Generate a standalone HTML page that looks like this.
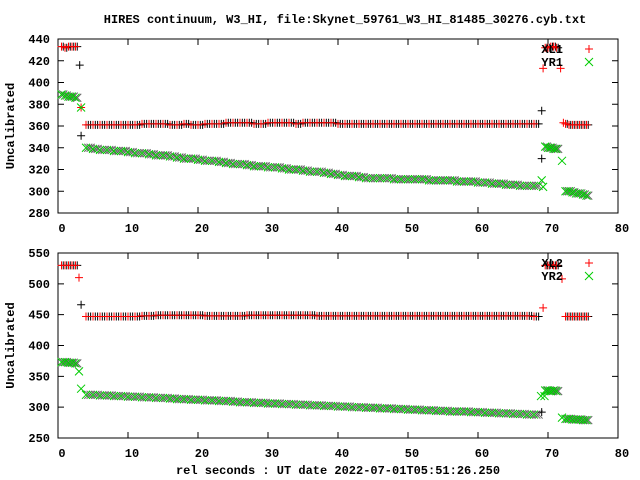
<!DOCTYPE html>
<html><head><meta charset="utf-8"><style>
html,body{margin:0;padding:0;background:#fff;}
svg{display:block;font-family:"Liberation Mono",monospace;font-weight:bold;}
</style></head><body>
<svg id="c" width="640" height="480" viewBox="0 0 640 480" xmlns="http://www.w3.org/2000/svg">
<rect width="640" height="480" fill="#fff"/>
<text x="345" y="23" font-size="12" text-anchor="middle">HIRES continuum, W3_HI, file:Skynet_59761_W3_HI_81485_30276.cyb.txt</text>
<text x="338" y="474" font-size="12" text-anchor="middle">rel seconds : UT date 2022-07-01T05:51:26.250</text>
<g id="g"></g>
</svg>
<script>
// shared x data
const xTicks = [0,10,20,30,40,50,60,70,80];
const mainTimes = [4,5,6,7,8,9,10,11,12,13,14,15,16,17,18,19,20,21,22,23,24,25,26,27,28,29,30,31,32,33,34,35,36,37,38,39,40,41,42,43,44,45,46,47,48,49,50,51,52,53,54,55,56,57,58,59,60,61,62,63,64,65,66,67,68];
const startTimes = [0.5,1,1.5,2,2.5];
const endTimes = [72.5,73,73.5,74,74.5,75,75.5];
const midTimes = [69.6,70,70.4,70.8,71.2];
// panel 1
const p1Ticks = [280,300,320,340,360,380,400,420,440];
const p1RedStart = [433,432,433,433,433];
const p1RedMain = [361,361,361,361,361,361,361,361,362,362,362,362,361,361,362,361,361,362,362,362,363,363,363,363,362,362,363,363,363,363,362,363,363,363,363,363,362,362,362,362,362,362,362,362,362,362,362,362,362,362,362,362,362,362,362,362,362,362,362,362,362,362,362,362,362];
const p1RedMid = [432,432,433,433,432];
const p1RedEnd = [362,361,361,361,361,361,361];
const p1RedOut = [[3.3,377],[69.3,413],[71.8,413],[72.2,363]];
const p1BlackOut = [[3.1,416],[3.3,351],[69.1,374],[69.1,330]];
const p1GreenStart = [389,388,387,387,386];
const p1GreenMain = [340,339,338,338,337,337,336,335,335,334,333,333,332,331,330,330,329,328,328,327,326,325,325,324,323,323,322,322,321,320,320,319,318,318,317,316,315,314,314,313,312,312,312,312,311,311,311,311,311,310,310,310,310,309,309,309,308,308,307,307,306,306,305,305,305];
const p1GreenMid = [341,340,340,339,339];
const p1GreenEnd = [300,300,299,298,298,297,296];
const p1GreenOut = [[3.3,377],[69.1,310],[69.3,304],[72,328]];
// panel 2
const p2Ticks = [250,300,350,400,450,500,550];
const p2RedStart = [530,530,530,530,530];
const p2RedMain = [447,447,447,447,447,447,447,447,448,448,449,449,449,449,449,449,449,448,448,448,448,448,448,449,449,449,449,449,449,449,449,449,449,448,448,448,448,448,448,448,448,448,448,448,448,448,448,448,448,448,448,448,448,448,448,448,448,448,448,448,448,448,448,448,447];
const p2RedMid = [530,530,531,530,530];
const p2RedEnd = [447,447,447,447,447,447,447];
const p2RedOut = [[3,510],[69.3,461],[72,508]];
const p2BlackOut = [[3.3,466],[69.1,292]];
const p2GreenStart = [373,373,372,372,371];
const p2GreenMain = [320,320,319,319,318,318,317,317,316,316,315,315,314,313,313,312,312,311,311,310,310,309,308,308,307,307,306,306,305,305,304,304,303,303,302,302,301,301,300,300,299,299,298,298,297,297,296,296,295,295,294,294,293,293,293,292,292,291,291,290,290,289,289,288,288];
const p2GreenMid = [327,327,326,327,326];
const p2GreenEnd = [281,281,280,280,280,279,279];
const p2GreenOut = [[3,358],[3.3,330],[69,318],[69.5,318],[72,283]];

const NS="http://www.w3.org/2000/svg";
const g=document.getElementById('g');
function mk(tag,attrs,parent){const e=document.createElementNS(NS,tag);for(const k in attrs)e.setAttribute(k,attrs[k]);(parent||g).appendChild(e);return e;}
const X0=58,X1=618;
function xs(t){return X0+(t-0)/(80-0)*(X1-X0);}

function plus(par,x,y,c){const p=mk('path',{d:`M${x-4},${y}h8M${x},${y-4}v8`,stroke:c,'stroke-width':1,fill:'none'},par);

}
function cross(par,x,y,c){const p=mk('path',{d:`M${x-4},${y-4}l8,8M${x-4},${y+4}l8,-8`,stroke:c,'stroke-width':1,fill:'none'},par);

}

function panel(name,top,bot,ticks,s,legend){
  const ymin=ticks[0],ymax=ticks[ticks.length-1];
  const ys=v=>bot-(v-ymin)/(ymax-ymin)*(bot-top);
  const pg=mk('g',{});
  
  
  ticks.forEach(v=>{const y=ys(v);
    mk('path',{d:`M${X0},${y}h6M${X1},${y}h-6`,stroke:'#000'},pg);
    const t=mk('text',{x:X0-8,y:y+4,'font-size':12,'text-anchor':'end'},pg);t.textContent=v;
    
    });
  xTicks.forEach(v=>{const x=xs(v);
    mk('path',{d:`M${x},${bot}v-6M${x},${top}v6`,stroke:'#000'},pg);
    const t=mk('text',{x:x+4,y:bot+19,'font-size':12,'text-anchor':'middle'},pg);t.textContent=v;
    
    });
  const fr=mk('rect',{x:X0,y:top,width:X1-X0,height:bot-top,fill:'none',stroke:'#000'},pg);
  
  
  const yl=mk('text',{transform:`translate(14,${(top+bot)/2}) rotate(-90)`,'font-size':12,'text-anchor':'middle'},pg);
  yl.textContent='Uncalibrated';
  
  
  const segs=[[startTimes,'Start'],[mainTimes,'Main'],[midTimes,'Mid'],[endTimes,'End']];
  // black / gray companion series (interleaved samples)
  segs.forEach(([tt,k])=>{const off=k==='Main'?[0.33,0.66]:[0.25];
    off.forEach(o=>{s['red'+k].forEach((v,i)=>{if(i<tt.length)plus(pg,xs(tt[i]+o),ys(v),'#000');});
    s['green'+k].forEach((v,i)=>{if(i<tt.length)cross(pg,xs(tt[i]+o),ys(v),'#666');});});});
  s.blackOut.forEach(([t,v])=>plus(pg,xs(t),ys(v),'#000'));
  segs.forEach(([tt,k])=>{s['red'+k].forEach((v,i)=>{if(i<tt.length)plus(pg,xs(tt[i]),ys(v),'#f00');});
    s['green'+k].forEach((v,i)=>{if(i<tt.length)cross(pg,xs(tt[i]),ys(v),'#0c0');});});
  s.redOut.forEach(([t,v])=>plus(pg,xs(t),ys(v),'#f00'));
  s.greenOut.forEach(([t,v])=>cross(pg,xs(t),ys(v),'#0c0'));
  // legend
  const l1=mk('text',{x:563,y:top+14,'font-size':12,'text-anchor':'end'},pg);l1.textContent=legend[0];
  
  
  plus(pg,589,top+10,'#f00');
  const l2=mk('text',{x:563,y:top+27,'font-size':12,'text-anchor':'end'},pg);l2.textContent=legend[1];
  
  
  cross(pg,589,top+23,'#0c0');
}
panel('top-panel',39,213,p1Ticks,{redStart:p1RedStart,redMain:p1RedMain,redMid:p1RedMid,redEnd:p1RedEnd,greenStart:p1GreenStart,greenMain:p1GreenMain,greenMid:p1GreenMid,greenEnd:p1GreenEnd,redOut:p1RedOut,greenOut:p1GreenOut,blackOut:p1BlackOut},['XL1','YR1']);
panel('bottom-panel',253,438,p2Ticks,{redStart:p2RedStart,redMain:p2RedMain,redMid:p2RedMid,redEnd:p2RedEnd,greenStart:p2GreenStart,greenMain:p2GreenMain,greenMid:p2GreenMid,greenEnd:p2GreenEnd,redOut:p2RedOut,greenOut:p2GreenOut,blackOut:p2BlackOut},['XL2','YR2']);
</script>
</body></html>
